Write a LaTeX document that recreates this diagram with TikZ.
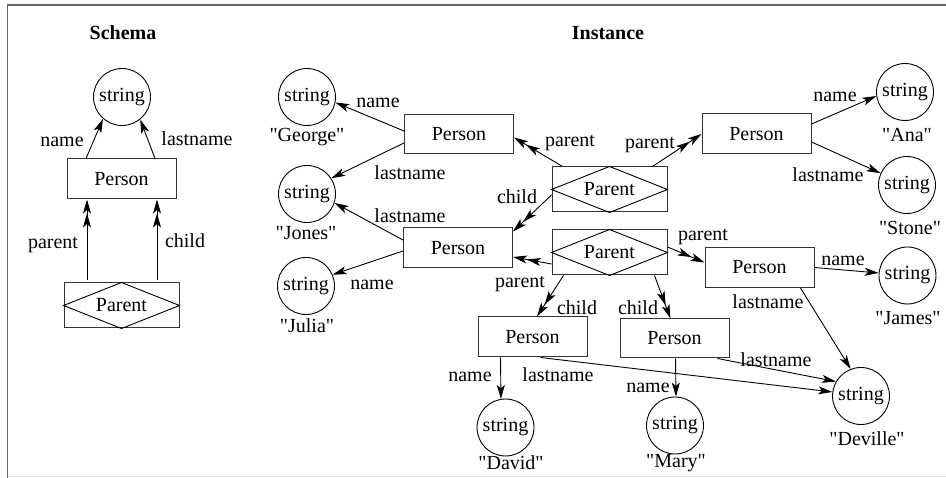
\documentclass[tikz,border=0pt]{standalone}
\usepackage{fontspec}
\setmainfont{Liberation Serif}[Ligatures=TeXOff]
\usetikzlibrary{arrows.meta,calc}

% straight double quotes around a value
\newcommand{\strval}[1]{\symbol{34}#1\symbol{34}}

\tikzset{
  lbl/.style={inner sep=0pt, font=\fontsize{20}{24}\selectfont},
  ttl/.style={inner sep=0pt, font=\fontsize{20}{24}\selectfont\bfseries},
  entity/.style={draw=black!80, line width=1pt, minimum width=109pt, minimum height=40pt,
                 inner sep=0pt, font=\fontsize{20}{24}\selectfont},
  relbox/.style={draw=black!80, line width=1pt, minimum width=115pt, minimum height=45pt,
                 inner sep=0pt, font=\fontsize{20}{24}\selectfont},
  strnode/.style={circle, draw, line width=0.9pt, minimum size=57pt, inner sep=0pt,
                  font=\fontsize{20}{24}\selectfont},
  tip/.tip={Stealth[length=14pt,width=8pt,inset=3.5pt]},
  attr/.style={line width=0.9pt, -{tip}},
  role/.style={line width=0.9pt, -{tip[]tip[]}},
}

\newcommand{\relnode}[3]{%
  \node[relbox] (#1) at (#2) {#3};
  \draw[line width=0.9pt] (#1.west) -- (#1.north) -- (#1.east) -- (#1.south) -- cycle;
}

\begin{document}
\begin{tikzpicture}[x=1pt,y=-1pt]
  \useasboundingbox (0,0) rectangle (946,478);
  % frame
  \draw[black!60, line width=1.6pt] (7.5,478) -- (7.5,5) -- (946,5);
  \draw[black!10, line width=1pt] (7.5,476.5) -- (946,476.5);

  % ---------------- Schema ----------------
  \node[ttl] (tSchema) at (123,33) {Schema};
  \node[strnode] (sStr) at (122,97) {string};
  \node[entity] (sPerson) at (121.5,179) {Person};
  \relnode{sParent}{121.5,305.5}{Parent}

  \draw[attr] ($(sPerson.north)+(-35.5,0)$) -- (sStr.229);
  \draw[attr] ($(sPerson.north)+(33.5,0)$) -- (sStr.309);
  \draw[role] ($(sParent.north)+(-34.5,-2)$) -- ($(sPerson.south)+(-34.5,0)$);
  \draw[role] ($(sParent.north)+(35.5,-2)$) -- ($(sPerson.south)+(35.5,0)$);

  \node[lbl] (lsName) at (62,142) {name};
  \node[lbl] (lsLast) at (197,139) {lastname};
  \node[lbl] (lsPar) at (53,245) {parent};
  \node[lbl] (lsChild) at (185,241) {child};

  % ---------------- Instance ----------------
  \node[ttl] (tInst) at (608,33) {Instance};

  % persons
  \node[entity, minimum height=39pt] (p1) at (459,134.5) {Person};
  \node[entity] (p2) at (458,248) {Person};
  \node[entity] (pAna) at (756.5,134) {Person};
  \node[entity] (pJames) at (759.5,267.5) {Person};
  \node[entity] (pDavid) at (532.5,337) {Person};
  \node[entity, minimum height=39pt] (pMary) at (674.5,338.5) {Person};

  % relationships
  \relnode{par1}{609.5,189.5}{Parent}
  \relnode{par2}{609.5,252.5}{Parent}

  % strings
  \node[strnode] (sGeorge) at (307,97) {string};
  \node[strnode] (sJones) at (307,194) {string};
  \node[strnode] (sJulia) at (306,286) {string};
  \node[strnode] (sAna) at (905,92) {string};
  \node[strnode] (sStone) at (907,185) {string};
  \node[strnode] (sJames) at (907.5,275.5) {string};
  \node[strnode] (sDavid) at (505.5,427.5) {string};
  \node[strnode] (sMary) at (675,425.5) {string};
  \node[strnode] (sDeville) at (861,396) {string};

  % string values
  \node[lbl] (vGeorge) at (307,137) {\strval{George}};
  \node[lbl] (vJones) at (306,233) {\strval{Jones}};
  \node[lbl] (vJulia) at (307,326) {\strval{Julia}};
  \node[lbl] (vAna) at (907,135) {\strval{Ana}};
  \node[lbl] (vStone) at (910,228) {\strval{Stone}};
  \node[lbl] (vJames) at (908,318) {\strval{James}};
  \node[lbl] (vDavid) at (511,463) {\strval{David}};
  \node[lbl] (vMary) at (676,463) {\strval{Mary}};
  \node[lbl] (vDeville) at (867,439) {\strval{Deville}};

  % attribute edges
  \draw[attr] ($(p1.west)+(0,-3.5)$) -- (sGeorge.349);
  \draw[attr] ($(p1.west)+(0,8.5)$) -- (sJones.33);
  \draw[attr] ($(p2.west)+(0,-8)$) -- (sJones.342);
  \draw[attr] ($(p2.west)+(0,3)$) -- (sJulia.23);
  \draw[attr] ($(pAna.east)+(0,-10)$) -- (sAna.188);
  \draw[attr] ($(pAna.east)+(0,8)$) -- (sStone.156);
  \draw[attr] (pJames.east) -- (sJames.175);
  \draw[attr] ($(pJames.south east)+(-14,0)$) -- (sDeville.111);
  \draw[attr] ($(pMary.south east)+(-12,0)$) -- (sDeville.150);
  \draw[attr] ($(pDavid.south)+(8,0)$) -- (sDeville.172);
  \draw[attr] ($(pDavid.south)+(-32,0)$) -- (sDavid.99);
  \draw[attr] ($(pMary.south)+(1,0)$) -- (sMary.88);

  % role edges
  \draw[role] ($(par1.north west)+(11,0)$) -- ($(p1.east)+(0,3)$);
  \draw[role] ($(par1.north east)+(-15,0)$) -- (pAna.west);
  \draw[role] ($(par1.west)+(0,5.5)$) -- ($(p2.north east)+(0,4)$);
  \draw[role] ($(par2.west)+(0,11.5)$) -- ($(p2.east)+(0,9)$);
  \draw[role] ($(par2.east)+(0,-5.5)$) -- ($(pJames.west)+(0,-5)$);
  \draw[role] ($(par2.south west)+(12,0)$) -- ($(pDavid.north)+(4.5,0)$);
  \draw[role] ($(par2.south east)+(-13,0)$) -- ($(pMary.north)+(-4,0)$);

  % edge labels
  \node[lbl] (l1) at (378,103) {name};
  \node[lbl] (l2) at (410,173) {lastname};
  \node[lbl] (l3) at (410,216) {lastname};
  \node[lbl] (l4) at (372,285) {name};
  \node[lbl] (l5) at (570,143) {parent};
  \node[lbl] (l6) at (650,145) {parent};
  \node[lbl] (l7) at (517,197) {child};
  \node[lbl] (l8) at (520,284) {parent};
  \node[lbl] (l9) at (703,237) {parent};
  \node[lbl] (l10) at (577,308) {child};
  \node[lbl] (l11) at (638,308) {child};
  \node[lbl] (l12) at (835,97) {name};
  \node[lbl] (l13) at (828,175) {lastname};
  \node[lbl] (l14) at (843,261) {name};
  \node[lbl] (l15) at (768,302) {lastname};
  \node[lbl] (l16) at (776,360) {lastname};
  \node[lbl] (l17) at (558,375) {lastname};
  \node[lbl] (l18) at (470,377) {name};
  \node[lbl] (l19) at (648,388) {name};
\end{tikzpicture}
\end{document}
